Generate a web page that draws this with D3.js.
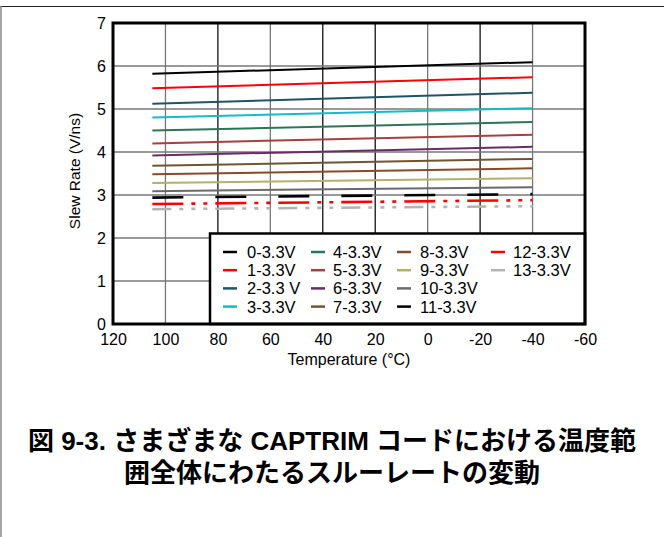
<!DOCTYPE html>
<html>
<head>
<meta charset="utf-8">
<script src="https://cdn.jsdelivr.net/npm/d3@7"></script>
<style>
  body { margin: 0; background: #fff; }
  svg text { font-family: "Liberation Sans", Arial, sans-serif; }
</style>
</head>
<body>
<div id="chart"></div>
<script>
// data: slew rate at 105 C and -40 C for each code
var temps = [105, -40];
var codes = ["0-3.3V", "1-3.3V", "2-3.3 V", "3-3.3V", "4-3.3V", "5-3.3V", "6-3.3V",
             "7-3.3V", "8-3.3V", "9-3.3V", "10-3.3V", "11-3.3V", "12-3.3V", "13-3.3V"];
var rateHot  = [5.82, 5.48, 5.12, 4.80, 4.50, 4.20, 3.92, 3.68, 3.48, 3.28, 3.09, 2.94, 2.79, 2.67];
var rateCold = [6.09, 5.74, 5.38, 5.02, 4.70, 4.40, 4.12, 3.84, 3.62, 3.39, 3.18, 3.02, 2.88, 2.74];
var xTicks = [120, 100, 80, 60, 40, 20, 0, -20, -40, -60];
var yTicks = [0, 1, 2, 3, 4, 5, 6, 7];

var colors = ["#000000", "#ff0000", "#1d5566", "#13bccc", "#2c7656", "#a5403f", "#6a2b68",
              "#6f5530", "#8a4a25", "#b5b068", "#6b6b6b", "#000000", "#ff0000", "#b3b3b3"];
var dashes = [null, null, null, null, null, null, null, null, null, null, null,
              "31,32", "31,8,4,8,4,8", "19,8,4,8,4,8,4,8"];

var width = 664, height = 537;
var pLeft = 113, pRight = 585, pTop = 23, pBottom = 324;

var svg = d3.select("#chart").append("svg")
  .attr("width", width)
  .attr("height", height);

// page frame (top and left rules only)
svg.append("line").attr("x1", 0).attr("x2", 664).attr("y1", 6.5).attr("y2", 6.5)
  .attr("stroke", "#222").attr("stroke-width", 1.2);
svg.append("line").attr("x1", 1).attr("x2", 1).attr("y1", 6).attr("y2", 537)
  .attr("stroke", "#888").attr("stroke-width", 1.5);

var x = d3.scaleLinear().domain([120, -60]).range([pLeft, pRight]);
var y = d3.scaleLinear().domain([0, 7]).range([pBottom, pTop]);

// grid
var gridX = [100, 80, 60, 40, 20, 0, -20, -40];
var gridXColor = { 100: "#777", 80: "#111", 60: "#777", 40: "#111", 20: "#111", 0: "#777", "-20": "#111", "-40": "#777" };
svg.append("g").selectAll("line").data(gridX).enter().append("line")
  .attr("x1", function(d) { return x(d); })
  .attr("x2", function(d) { return x(d); })
  .attr("y1", pTop).attr("y2", pBottom)
  .attr("stroke", function(d) { return gridXColor[d]; })
  .attr("stroke-width", 1.3);
svg.append("g").selectAll("line").data([1, 2, 3, 4, 5, 6]).enter().append("line")
  .attr("x1", pLeft).attr("x2", pRight)
  .attr("y1", function(d) { return y(d); })
  .attr("y2", function(d) { return y(d); })
  .attr("stroke", "#777")
  .attr("stroke-width", 1.3);

// series
var line = d3.line()
  .x(function(d) { return x(d[0]); })
  .y(function(d) { return y(d[1]); });

codes.forEach(function(c, i) {
  var pts = [[temps[0], rateHot[i]], [temps[1], rateCold[i]]];
  svg.append("path")
    .datum(pts)
    .attr("d", line)
    .attr("fill", "none")
    .attr("stroke", colors[i])
    .attr("stroke-width", i >= 11 ? 2.6 : 2)
    .attr("stroke-dasharray", dashes[i]);
});

// axes (labels only, frame drawn separately)
var plain = function(d) { return String(d); };
var xAxis = svg.append("g")
  .attr("transform", "translate(0," + pBottom + ")")
  .call(d3.axisBottom(x).tickValues(xTicks).tickSize(0).tickPadding(10).tickFormat(plain));
var yAxis = svg.append("g")
  .attr("transform", "translate(" + pLeft + ",0)")
  .call(d3.axisLeft(y).tickValues(yTicks).tickSize(0).tickPadding(7).tickFormat(plain));
[xAxis, yAxis].forEach(function(a) {
  a.select(".domain").remove();
  a.selectAll("text")
    .attr("fill", "#000")
    .style("font-size", "16px")
    .style("font-family", "'Liberation Sans', Arial, sans-serif");
});

// legend
var lg = svg.append("g");
lg.append("rect")
  .attr("x", 210).attr("y", 233.5)
  .attr("width", pRight - 210).attr("height", pBottom - 233.5)
  .attr("fill", "#fff")
  .attr("stroke", "#000")
  .attr("stroke-width", 2.5);
var colX = [223, 311, 397, 491];
var colText = [247, 333, 420, 513];
codes.forEach(function(c, i) {
  var col = Math.floor(i / 4), row = i % 4;
  var ly = 252 + row * 18.2;
  lg.append("line")
    .attr("x1", colX[col]).attr("x2", colX[col] + 14)
    .attr("y1", ly).attr("y2", ly)
    .attr("stroke", colors[i])
    .attr("stroke-width", 2.5);
  lg.append("text")
    .attr("x", colText[col]).attr("y", ly + 6)
    .style("font-size", "16.5px")
    .text(c);
});

// plot frame
svg.append("rect")
  .attr("x", pLeft).attr("y", pTop)
  .attr("width", pRight - pLeft).attr("height", pBottom - pTop)
  .attr("fill", "none")
  .attr("stroke", "#000")
  .attr("stroke-width", 3);

// axis titles
svg.append("text")
  .attr("x", 349).attr("y", 365)
  .attr("text-anchor", "middle")
  .style("font-size", "16px")
  .text("Temperature (°C)");
svg.append("text")
  .attr("transform", "translate(80,171) rotate(-90)")
  .attr("text-anchor", "middle")
  .style("font-size", "15.5px")
  .text("Slew Rate (V/ns)");

// caption
var capFont = "'Liberation Sans', 'Noto Sans CJK JP', sans-serif";
svg.append("text").attr("x", 332).attr("y", 450).attr("text-anchor", "middle")
  .style("font-family", capFont).style("font-weight", "bold").style("font-size", "26px")
  .text("図 9-3. さまざまな CAPTRIM コードにおける温度範");
svg.append("text").attr("x", 332).attr("y", 482).attr("text-anchor", "middle")
  .style("font-family", capFont).style("font-weight", "bold").style("font-size", "26px")
  .text("囲全体にわたるスルーレートの変動");
</script>
</body>
</html>
